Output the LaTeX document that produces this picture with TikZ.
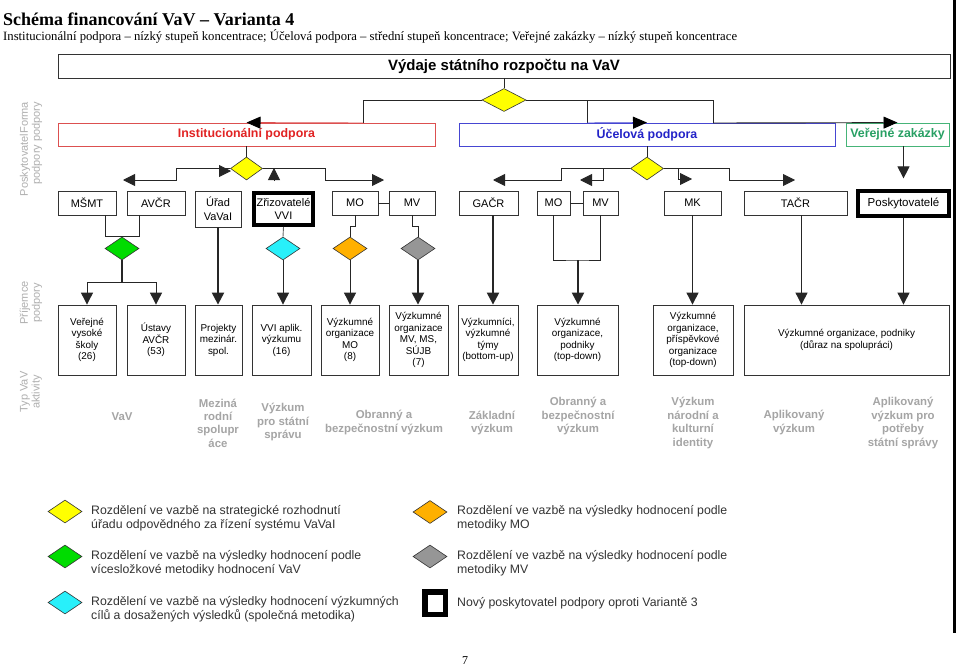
\documentclass[tikz,border=0pt]{standalone}
\usepackage{fontspec}
\setmainfont{Liberation Serif}
\setsansfont{Liberation Sans}
\usetikzlibrary{shapes.geometric,arrows.meta,calc}
\newcommand\myfs[2]{\fontsize{#1}{#2}\selectfont}
\newcommand\rbx[7][]{\node[box,minimum width={(#4)-(#2)},minimum height={(#5)-(#3)},#1] (#6) at ({((#2)+(#4))/2},{((#3)+(#5))/2}) {#7};}
\definecolor{instred}{RGB}{225,35,35}
\definecolor{instredb}{RGB}{220,80,80}
\definecolor{ucelblue}{RGB}{35,35,200}
\definecolor{ucelblueb}{RGB}{70,70,210}
\definecolor{vzgreen}{RGB}{40,160,100}
\definecolor{vzgreenb}{RGB}{70,180,120}
\definecolor{typgray}{RGB}{165,165,165}
\definecolor{sidegray}{RGB}{175,175,175}
\definecolor{dyellow}{RGB}{255,255,0}
\definecolor{dgreen}{RGB}{0,220,0}
\definecolor{dcyan}{RGB}{40,240,250}
\definecolor{dorange}{RGB}{255,176,0}
\definecolor{dgray}{RGB}{150,150,150}
\begin{document}
\begin{tikzpicture}[x=1pt,y=-1pt,
  box/.style={draw=black!80, line width=0.8pt, inner sep=1pt, align=center, text=black, font=\sffamily\myfs{9.9}{11.5}},
  r2/.style={font=\sffamily\myfs{11}{13.5}},
  thickbox/.style={line width=4pt, draw=black},
  hdr/.style={font=\sffamily\bfseries\myfs{12.4}{14}},
  dia/.style={diamond, draw=black!80, line width=0.6pt, inner sep=0pt, minimum width=34pt, minimum height=23pt},
  conn/.style={draw=black!85, line width=0.9pt},
  thk/.style={line width=2.2pt},
  arr/.style={-{Triangle[width=12pt,length=12pt]}},
  toparr/.style={-{Triangle[width=12pt,length=14pt,color=black]}},
  typ/.style={font=\sffamily\bfseries\myfs{11.4}{13.4}, text=typgray, align=center, inner sep=0pt},
  leg/.style={font=\sffamily\myfs{12.3}{13.7}, text=black!80, align=left, anchor=west, inner sep=0pt},
  side/.style={font=\sffamily\myfs{11}{12}, text=sidegray, rotate=90, inner sep=0pt, align=center}]
\fill[white] (0,0) rectangle (960,669);
\path[use as bounding box] (0,0) rectangle (960,669);

% title
\node[anchor=base west, inner sep=0, font=\bfseries\myfs{18}{20}] (title) at (3,26) {Schéma financování VaV – Varianta 4};
\node[anchor=base west, inner sep=0, font=\myfs{12.7}{14}] (sub) at (3,40.5) {Institucionální podpora – nízký stupeň koncentrace; Účelová podpora – střední stupeň koncentrace; Veřejné zakázky – nízký stupeň koncentrace};
\draw[line width=3pt] (954,0) -- (954,633);

% level 0
\rbx[font=\sffamily\bfseries\myfs{15}{18}]{58}{54}{950}{78}{top}{Výdaje státního rozpočtu na VaV}
\node[dia, fill=dyellow, minimum width=44pt] (d0) at (504,100) {};
\draw[conn] (top.south) -- (d0.north);

% level 1
\rbx[hdr, draw=instredb, text=instred]{58}{123}{435}{146}{inst}{Institucionální podpora}
\rbx[hdr, draw=ucelblueb, text=ucelblue]{459}{123}{835}{146}{ucel}{Účelová podpora}
\rbx[hdr, draw=vzgreenb, text=vzgreen]{846}{123}{949}{146}{vz}{Veřejné zakázky}
\coordinate (jL) at (363,123);
\coordinate (jC) at (587,123);
\coordinate (jR) at (713,123);
\draw[conn] (d0.west) -| (jL);
\draw[conn, draw=instredb, toparr] (jL) -- (inst.north);
\draw[conn] (d0.east) -| (jR);
\draw[conn] (jC |- d0.east) -- (jC);
\draw[conn, draw=ucelblueb, toparr] (jC) -- (ucel.north);
\draw[conn, toparr] (jR) -- (vz.north);

% level 2 boxes
\rbx[r2]{58}{191}{116}{215}{msmt}{MŠMT}
\rbx[r2]{127}{191}{185}{215}{avcr}{AVČR}
\rbx[r2]{195}{191}{241}{227}{urad}{Úřad\\VaVaI}
\rbx[r2,thickbox]{254}{193}{313}{225}{zriz}{Zřizovatelé\\VVI}
\rbx[r2]{332}{191}{378}{215}{mo1}{MO}
\rbx[r2]{389}{191}{435}{215}{mv1}{MV}
\rbx[r2]{459}{191}{518}{215}{gacr}{GAČR}
\rbx[r2]{537}{191}{570}{215}{mo2}{MO}
\rbx[r2]{583}{191}{618}{215}{mv2}{MV}
\rbx[r2]{664}{191}{721}{215}{mk}{MK}
\rbx[r2]{744}{191}{847}{215}{tacr}{TAČR}
\rbx[r2,thickbox,font=\sffamily\myfs{11.5}{14}]{858}{191}{949}{216}{posk}{Poskytovatelé}
\draw[conn] (mo1.east) -- (mv1.west);
\draw[conn] (mo2.east) -- (mv2.west);

% institutional distribution
\node[dia, fill=dyellow, minimum width=32pt] (d1) at (246.5,168.5) {};
\draw[conn] (inst.south) -- (d1.north);
\coordinate (a1) at (176,180);
\coordinate (t1) at (123,180);
\draw[conn, arr] (d1.west) -| (a1) -- (t1);
\coordinate (a2) at (325,180);
\coordinate (t2) at (384,180);
\draw[conn, arr] (d1.east) -| (a2) -- (t2);
\coordinate (s1a) at (219,171);
\coordinate (s1b) at (231,171);
\draw[conn, arr] (s1a) -- (s1b);
\coordinate (s2a) at (274,181);
\coordinate (s2b) at (274,168);
\draw[conn, arr] (s2a) -- (s2b);

% purpose-based distribution
\node[dia, fill=dyellow, minimum width=33pt] (d2) at (647,168.5) {};
\draw[conn] (ucel.south) -- (d2.north);
\coordinate (b1) at (561,180);
\coordinate (u1) at (493,180);
\draw[conn, arr] (d2.west) -| (b1) -- (u1);
\coordinate (b2) at (603,168.5);
\coordinate (u2) at (580,180);
\draw[conn, arr] (b2) |- (u2);
\coordinate (b3) at (678,168.5);
\coordinate (u3) at (692,179);
\draw[conn, arr] (b3) |- (u3);
\coordinate (b4) at (729,180);
\coordinate (u4) at (795,180);
\draw[conn, arr] (d2.east) -| (b4) -- (u4);
\draw[conn, arr] (vz.south -| posk.south) -- ($(vz.south -| posk.south)+(0,32)$);

% level 3 boxes
\rbx{58}{305}{116}{375}{vvs}{Veřejné\\vysoké\\školy\\(26)}
\rbx{127}{305}{185}{375}{ust}{Ústavy\\AVČR\\(53)}
\rbx{195}{305}{242}{375}{proj}{Projekty\\mezinár.\\spol.}
\rbx{252}{305}{311}{375}{vvi}{VVI aplik.\\výzkumu\\(16)}
\rbx{321}{305}{379}{375}{vomo}{Výzkumné\\organizace\\MO\\(8)}
\rbx{389}{305}{448}{375}{vomv}{Výzkumné\\organizace\\MV, MS,\\SÚJB\\(7)}
\rbx{458}{305}{518}{375}{vt}{Výzkumníci,\\výzkumné\\týmy\\(bottom-up)}
\rbx{537}{305}{618}{375}{vo2}{Výzkumné\\organizace,\\podniky\\(top-down)}
\rbx{653}{305}{733}{375}{vop}{Výzkumné\\organizace,\\příspěvkové\\organizace\\(top-down)}
\rbx{744}{305}{949}{375}{vod}{Výzkumné organizace, podniky\\(důraz na spolupráci)}

% connectors to recipients
\node[dia, fill=dgreen] (dg) at (122,248.5) {};
\draw[conn] ($(msmt.south)+(18,0)$) |- (dg.north) -| ($(avcr.south)+(-17,0)$);
\coordinate (g2) at (122,282);
\draw[conn, thk] (dg.south) -- (g2);
\draw[conn, arr] (g2) -| (vvs.north);
\draw[conn, arr] (g2) -| (ust.north);
\draw[conn, thk, arr] (urad.south) -- (urad.south |- proj.north);
\node[dia, fill=dcyan] (dc) at (283,248.5) {};
\draw[conn, draw=black!60] (zriz.south) -- (dc.north);
\draw[conn, arr] (dc.south) -- (dc.south |- vvi.north);
\node[dia, fill=dorange] (do) at (350,248.5) {};
\draw[conn] (mo1.south) -- ++(0,11) -| (do.north);
\draw[conn, arr] (do.south) -- (do.south |- vomo.north);
\node[dia, fill=dgray] (dgr) at (418,248.5) {};
\draw[conn] (mv1.south) -- ++(0,11) -| (dgr.north);
\draw[conn, thk, arr] (dgr.south) -- (dgr.south |- vomv.north);
\draw[conn, thk, arr] ($(gacr.south)+(4.5,0)$) -- ($(gacr.south |- vt.north)+(4.5,0)$);
\coordinate (j2) at (578,260);
\draw[conn] (mo2.south) |- (j2) -| (mv2.south);
\draw[conn, thk, arr] (j2) -- (j2 |- vo2.north);
\draw[conn, arr] (mk.south) -- (mk.south |- vop.north);
\draw[conn, arr] ($(tacr.south)+(6,0)$) -- ($(tacr.south |- vod.north)+(6,0)$);
\draw[conn, arr] (posk.south) -- (posk.south |- vod.north);

% type of activity
\node[typ] (ty1) at (122,417) {VaV};
\node[typ] (ty2) at (218,423) {Meziná\\rodní\\spolupr\\áce};
\node[typ] (ty3) at (283,422) {Výzkum\\pro státní\\správu};
\node[typ] (ty4) at (384,422.5) {Obranný a\\bezpečnostní výzkum};
\node[typ] (ty5) at (492,423) {Základní\\výzkum};
\node[typ] (ty6) at (578,416) {Obranný a\\bezpečnostní\\výzkum};
\node[typ] (ty7) at (693,423) {Výzkum\\národní a\\kulturní\\identity};
\node[typ] (ty8) at (794,422.5) {Aplikovaný\\výzkum};
\node[typ] (ty9) at (903,423) {Aplikovaný\\výzkum pro\\potřeby\\státní správy};

% side labels
\node[side, align=right] (sd1) at (31,149) {PoskytovatelForma\\podpory podpory};
\node[side] (sd2) at (31,303) {Příjemce\\podpory};
\node[side] (sd3) at (31,392) {Typ VaV\\aktivity};

% legend
\node[dia, fill=dyellow] (l1) at (65,511.5) {};
\node[leg] (l1t) at (91,518) {Rozdělení ve vazbě na strategické rozhodnutí\\úřadu odpovědného za řízení systému VaVaI};
\node[dia, fill=dgreen] (l2) at (65,556.5) {};
\node[leg] (l2t) at (91,563) {Rozdělení ve vazbě na výsledky hodnocení podle\\vícesložkové metodiky hodnocení VaV};
\node[dia, fill=dcyan] (l3) at (65,602.5) {};
\node[leg] (l3t) at (91,609) {Rozdělení ve vazbě na výsledky hodnocení výzkumných\\cílů a dosažených výsledků (společná metodika)};
\node[dia, fill=dorange] (l4) at (430,512) {};
\node[leg] (l4t) at (457,518) {Rozdělení ve vazbě na výsledky hodnocení podle\\metodiky MO};
\node[dia, fill=dgray] (l5) at (430,556.5) {};
\node[leg] (l5t) at (457,563) {Rozdělení ve vazbě na výsledky hodnocení podle\\metodiky MV};
\node[draw, line width=5.5pt, minimum width=20.5pt, minimum height=22.5pt, inner sep=0pt] (l6) at (435,603) {};
\node[leg] (l6t) at (457,603) {Nový poskytovatel podpory oproti Variantě 3};

\node[font=\myfs{12}{14}, inner sep=0pt] (pg) at (465,661) {7};
\end{tikzpicture}
\end{document}
